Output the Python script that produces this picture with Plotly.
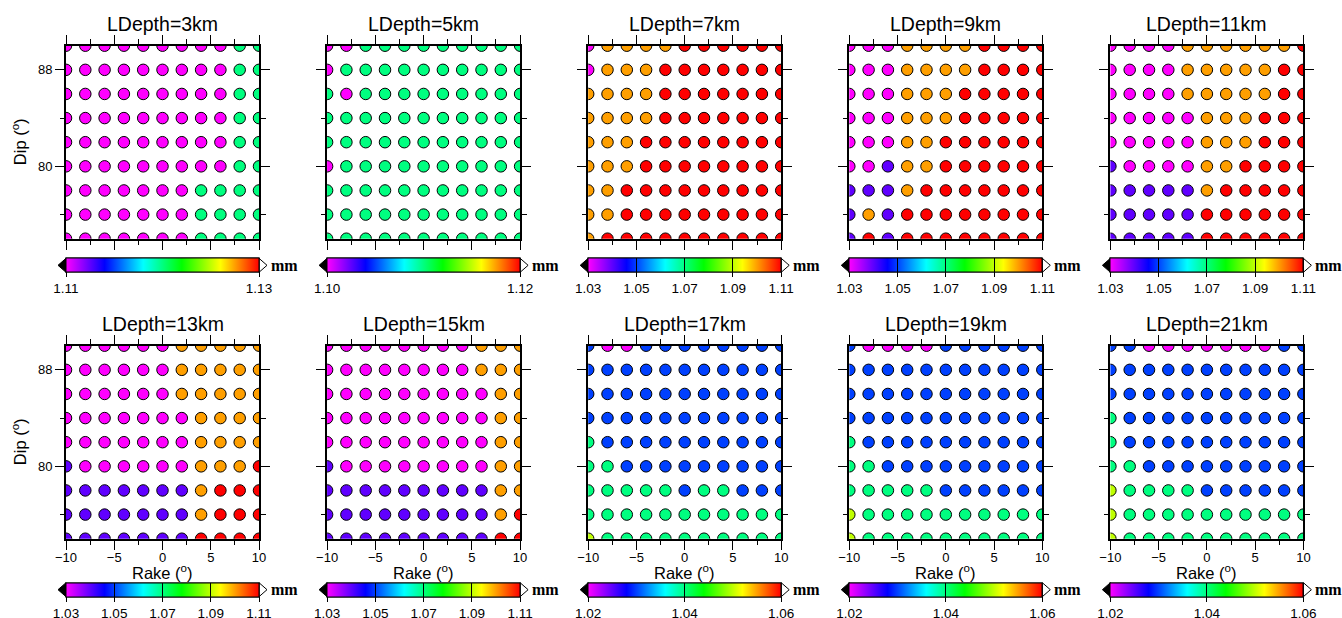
import numpy as np
import plotly.graph_objects as go

# ---------------- data ----------------
rake = [-10, -8, -6, -4, -2, 0, 2, 4, 6, 8, 10]
dip = [90, 88, 86, 84, 82, 80, 78, 76, 74]
depths = [3, 5, 7, 9, 11, 13, 15, 17, 19, 21]

d3 = [
    [1.11, 1.11, 1.11, 1.11, 1.11, 1.11, 1.11, 1.11, 1.11, 1.12, 1.12],
    [1.11, 1.11, 1.11, 1.11, 1.11, 1.11, 1.11, 1.11, 1.11, 1.12, 1.12],
    [1.11, 1.11, 1.11, 1.11, 1.11, 1.11, 1.11, 1.11, 1.11, 1.12, 1.12],
    [1.11, 1.11, 1.11, 1.11, 1.11, 1.11, 1.11, 1.11, 1.11, 1.12, 1.12],
    [1.11, 1.11, 1.11, 1.11, 1.11, 1.11, 1.11, 1.11, 1.11, 1.12, 1.12],
    [1.11, 1.11, 1.11, 1.11, 1.11, 1.11, 1.11, 1.11, 1.11, 1.12, 1.12],
    [1.11, 1.11, 1.11, 1.11, 1.11, 1.11, 1.11, 1.12, 1.12, 1.12, 1.12],
    [1.11, 1.11, 1.11, 1.11, 1.11, 1.11, 1.11, 1.12, 1.12, 1.12, 1.12],
    [1.11, 1.11, 1.11, 1.11, 1.11, 1.11, 1.11, 1.12, 1.12, 1.12, 1.12],
]
d5 = [
    [1.10, 1.10, 1.11, 1.11, 1.11, 1.11, 1.11, 1.11, 1.11, 1.11, 1.11],
    [1.10, 1.11, 1.11, 1.11, 1.11, 1.11, 1.11, 1.11, 1.11, 1.11, 1.11],
    [1.11, 1.10, 1.11, 1.11, 1.11, 1.11, 1.11, 1.11, 1.11, 1.11, 1.11],
    [1.11, 1.11, 1.11, 1.11, 1.11, 1.11, 1.11, 1.11, 1.11, 1.11, 1.11],
    [1.11, 1.11, 1.11, 1.11, 1.11, 1.11, 1.11, 1.11, 1.11, 1.11, 1.11],
    [1.10, 1.11, 1.11, 1.11, 1.11, 1.11, 1.11, 1.11, 1.11, 1.11, 1.11],
    [1.11, 1.11, 1.11, 1.11, 1.11, 1.11, 1.11, 1.11, 1.11, 1.11, 1.11],
    [1.11, 1.11, 1.11, 1.11, 1.11, 1.11, 1.11, 1.11, 1.11, 1.11, 1.11],
    [1.11, 1.11, 1.11, 1.11, 1.11, 1.11, 1.11, 1.11, 1.11, 1.11, 1.11],
]
d7 = [
    [1.03, 1.10, 1.10, 1.10, 1.10, 1.11, 1.11, 1.11, 1.11, 1.11, 1.11],
    [1.03, 1.10, 1.10, 1.10, 1.11, 1.11, 1.11, 1.11, 1.11, 1.11, 1.11],
    [1.10, 1.10, 1.10, 1.10, 1.11, 1.11, 1.11, 1.11, 1.11, 1.11, 1.11],
    [1.10, 1.10, 1.10, 1.10, 1.11, 1.11, 1.11, 1.11, 1.11, 1.11, 1.11],
    [1.10, 1.10, 1.10, 1.11, 1.11, 1.11, 1.11, 1.11, 1.11, 1.11, 1.11],
    [1.10, 1.10, 1.10, 1.11, 1.11, 1.11, 1.11, 1.11, 1.11, 1.11, 1.11],
    [1.10, 1.10, 1.11, 1.11, 1.11, 1.11, 1.11, 1.11, 1.11, 1.11, 1.11],
    [1.10, 1.10, 1.11, 1.11, 1.11, 1.11, 1.11, 1.11, 1.11, 1.11, 1.11],
    [1.10, 1.11, 1.11, 1.11, 1.11, 1.11, 1.11, 1.11, 1.11, 1.11, 1.11],
]
d9 = [
    [1.03, 1.03, 1.03, 1.10, 1.10, 1.10, 1.10, 1.11, 1.11, 1.11, 1.11],
    [1.03, 1.03, 1.03, 1.10, 1.10, 1.10, 1.10, 1.11, 1.11, 1.11, 1.11],
    [1.03, 1.03, 1.03, 1.10, 1.10, 1.10, 1.11, 1.11, 1.11, 1.11, 1.11],
    [1.03, 1.03, 1.03, 1.10, 1.10, 1.10, 1.11, 1.11, 1.11, 1.11, 1.11],
    [1.03, 1.03, 1.03, 1.10, 1.10, 1.11, 1.11, 1.11, 1.11, 1.11, 1.11],
    [1.03, 1.03, 1.04, 1.10, 1.10, 1.11, 1.11, 1.11, 1.11, 1.11, 1.11],
    [1.04, 1.04, 1.04, 1.10, 1.11, 1.11, 1.11, 1.11, 1.11, 1.11, 1.11],
    [1.04, 1.10, 1.04, 1.11, 1.11, 1.11, 1.11, 1.11, 1.11, 1.11, 1.11],
    [1.04, 1.11, 1.04, 1.11, 1.11, 1.11, 1.11, 1.11, 1.11, 1.11, 1.11],
]
d11 = [
    [1.03, 1.03, 1.03, 1.03, 1.10, 1.10, 1.10, 1.10, 1.10, 1.10, 1.11],
    [1.03, 1.03, 1.03, 1.03, 1.10, 1.10, 1.10, 1.10, 1.10, 1.11, 1.11],
    [1.03, 1.03, 1.03, 1.03, 1.10, 1.10, 1.10, 1.10, 1.10, 1.11, 1.11],
    [1.03, 1.03, 1.03, 1.03, 1.03, 1.10, 1.10, 1.10, 1.11, 1.11, 1.11],
    [1.03, 1.03, 1.03, 1.03, 1.03, 1.10, 1.10, 1.10, 1.11, 1.11, 1.11],
    [1.04, 1.03, 1.03, 1.03, 1.03, 1.10, 1.10, 1.11, 1.11, 1.11, 1.11],
    [1.04, 1.04, 1.04, 1.04, 1.04, 1.10, 1.11, 1.11, 1.11, 1.11, 1.11],
    [1.04, 1.04, 1.04, 1.04, 1.04, 1.11, 1.11, 1.11, 1.11, 1.11, 1.11],
    [1.04, 1.04, 1.04, 1.04, 1.04, 1.11, 1.11, 1.11, 1.11, 1.11, 1.11],
]
d13 = [
    [1.03, 1.03, 1.03, 1.03, 1.03, 1.03, 1.10, 1.10, 1.10, 1.10, 1.10],
    [1.03, 1.03, 1.03, 1.03, 1.03, 1.03, 1.10, 1.10, 1.10, 1.10, 1.10],
    [1.03, 1.03, 1.03, 1.03, 1.03, 1.03, 1.10, 1.10, 1.10, 1.10, 1.10],
    [1.03, 1.03, 1.03, 1.03, 1.03, 1.03, 1.03, 1.10, 1.10, 1.10, 1.10],
    [1.03, 1.03, 1.03, 1.03, 1.03, 1.03, 1.03, 1.10, 1.10, 1.10, 1.10],
    [1.04, 1.03, 1.03, 1.03, 1.03, 1.03, 1.03, 1.10, 1.10, 1.10, 1.11],
    [1.04, 1.04, 1.04, 1.04, 1.04, 1.04, 1.04, 1.10, 1.11, 1.11, 1.11],
    [1.04, 1.04, 1.04, 1.04, 1.04, 1.04, 1.04, 1.10, 1.11, 1.11, 1.11],
    [1.04, 1.04, 1.04, 1.04, 1.04, 1.04, 1.04, 1.11, 1.11, 1.11, 1.11],
]
d15 = [
    [1.03, 1.03, 1.03, 1.03, 1.03, 1.03, 1.03, 1.03, 1.10, 1.10, 1.10],
    [1.03, 1.03, 1.03, 1.03, 1.03, 1.03, 1.03, 1.03, 1.10, 1.10, 1.10],
    [1.03, 1.03, 1.03, 1.03, 1.03, 1.03, 1.03, 1.03, 1.03, 1.10, 1.10],
    [1.03, 1.03, 1.03, 1.03, 1.03, 1.03, 1.03, 1.03, 1.03, 1.10, 1.10],
    [1.03, 1.03, 1.03, 1.03, 1.03, 1.03, 1.03, 1.03, 1.03, 1.10, 1.10],
    [1.04, 1.03, 1.03, 1.03, 1.03, 1.03, 1.03, 1.03, 1.03, 1.10, 1.10],
    [1.04, 1.04, 1.04, 1.04, 1.04, 1.04, 1.04, 1.04, 1.04, 1.10, 1.10],
    [1.04, 1.04, 1.04, 1.04, 1.04, 1.04, 1.04, 1.04, 1.04, 1.10, 1.11],
    [1.04, 1.04, 1.04, 1.04, 1.04, 1.04, 1.04, 1.04, 1.04, 1.11, 1.11],
]
d17 = [
    [1.03, 1.02, 1.02, 1.03, 1.03, 1.03, 1.03, 1.03, 1.03, 1.03, 1.03],
    [1.03, 1.03, 1.03, 1.03, 1.03, 1.03, 1.03, 1.03, 1.03, 1.03, 1.03],
    [1.03, 1.03, 1.03, 1.03, 1.03, 1.03, 1.03, 1.03, 1.03, 1.03, 1.03],
    [1.03, 1.03, 1.03, 1.03, 1.03, 1.03, 1.03, 1.03, 1.03, 1.03, 1.03],
    [1.04, 1.03, 1.03, 1.03, 1.03, 1.03, 1.03, 1.03, 1.03, 1.03, 1.03],
    [1.04, 1.04, 1.03, 1.03, 1.03, 1.03, 1.03, 1.03, 1.03, 1.03, 1.03],
    [1.04, 1.04, 1.04, 1.04, 1.04, 1.03, 1.04, 1.04, 1.03, 1.03, 1.03],
    [1.04, 1.04, 1.04, 1.04, 1.04, 1.04, 1.04, 1.04, 1.04, 1.04, 1.04],
    [1.05, 1.04, 1.04, 1.04, 1.04, 1.04, 1.04, 1.04, 1.04, 1.04, 1.04],
]
d19 = [
    [1.03, 1.02, 1.02, 1.02, 1.02, 1.03, 1.03, 1.03, 1.03, 1.03, 1.03],
    [1.03, 1.03, 1.03, 1.03, 1.03, 1.03, 1.03, 1.03, 1.03, 1.03, 1.03],
    [1.03, 1.03, 1.03, 1.03, 1.03, 1.03, 1.03, 1.03, 1.03, 1.03, 1.03],
    [1.03, 1.03, 1.03, 1.03, 1.03, 1.03, 1.03, 1.03, 1.03, 1.03, 1.03],
    [1.04, 1.03, 1.03, 1.03, 1.03, 1.03, 1.03, 1.03, 1.03, 1.03, 1.03],
    [1.04, 1.04, 1.03, 1.03, 1.03, 1.03, 1.03, 1.03, 1.03, 1.03, 1.03],
    [1.04, 1.04, 1.04, 1.04, 1.04, 1.03, 1.03, 1.03, 1.03, 1.03, 1.03],
    [1.05, 1.04, 1.04, 1.04, 1.04, 1.04, 1.04, 1.04, 1.04, 1.04, 1.04],
    [1.05, 1.04, 1.04, 1.04, 1.04, 1.04, 1.04, 1.04, 1.04, 1.04, 1.04],
]
d21 = [
    [1.03, 1.03, 1.02, 1.02, 1.02, 1.02, 1.02, 1.02, 1.02, 1.03, 1.03],
    [1.03, 1.03, 1.03, 1.03, 1.03, 1.03, 1.03, 1.03, 1.03, 1.03, 1.03],
    [1.03, 1.03, 1.03, 1.03, 1.03, 1.03, 1.03, 1.03, 1.03, 1.03, 1.03],
    [1.04, 1.03, 1.03, 1.03, 1.03, 1.03, 1.03, 1.03, 1.03, 1.03, 1.03],
    [1.04, 1.03, 1.03, 1.03, 1.03, 1.03, 1.03, 1.03, 1.03, 1.03, 1.03],
    [1.04, 1.04, 1.03, 1.03, 1.03, 1.03, 1.03, 1.03, 1.03, 1.03, 1.03],
    [1.05, 1.04, 1.04, 1.04, 1.04, 1.03, 1.03, 1.03, 1.03, 1.03, 1.03],
    [1.05, 1.04, 1.04, 1.04, 1.04, 1.04, 1.04, 1.04, 1.04, 1.04, 1.04],
    [1.05, 1.04, 1.04, 1.04, 1.04, 1.04, 1.04, 1.04, 1.04, 1.04, 1.04],
]
panels = [d3, d5, d7, d9, d11, d13, d15, d17, d19, d21]

cb_min = [1.11, 1.10, 1.03, 1.03, 1.03, 1.03, 1.03, 1.02, 1.02, 1.02]
cb_max = [1.13, 1.12, 1.11, 1.11, 1.11, 1.11, 1.11, 1.06, 1.06, 1.06]
ticks_a = [1.03, 1.05, 1.07, 1.09, 1.11]
ticks_b = [1.02, 1.04, 1.06]
cb_ticks = [[1.11, 1.13], [1.10, 1.12], ticks_a, ticks_a, ticks_a,
            ticks_a, ticks_a, ticks_b, ticks_b, ticks_b]

# ---------------- styling / layout ----------------
W, H = 1342, 618
FONT = "Liberation Sans"
rainbow = [[0.0, "rgb(255,0,255)"], [0.2, "rgb(0,0,255)"], [0.4, "rgb(0,255,255)"],
           [0.6, "rgb(0,255,0)"], [0.8, "rgb(255,255,0)"], [1.0, "rgb(255,0,0)"]]

col_left = [66, 327.1, 588.2, 849.3, 1110.4]
PW = 193.0
row_top = [45.7, 345.7]
PH = 193.0
cb_top = [258.3, 582.7]
cb_th = 14
title_y = [24, 324]

def px(x):
    return x / W

def py(y):
    return 1 - y / H

fig = go.Figure()
shapes = []
annotations = []
layout = dict(
    width=W, height=H,
    margin=dict(l=0, r=0, t=0, b=0, autoexpand=False),
    paper_bgcolor="white", plot_bgcolor="white",
    font=dict(family=FONT, color="black"),
    showlegend=False,
    template="none",
)

RX, RY = np.meshgrid(rake, dip)

for k in range(10):
    r, c = divmod(k, 5)
    idx = k + 1
    sfx = "" if idx == 1 else str(idx)
    L = col_left[c]
    T = row_top[r]
    vals = np.array(panels[k]).ravel()
    fig.add_trace(go.Scatter(
        x=RX.ravel(), y=RY.ravel(), mode="markers",
        xaxis="x" + sfx, yaxis="y" + sfx,
        marker=dict(size=11.5, color=vals, coloraxis="coloraxis" + sfx,
                    line=dict(color="black", width=1)),
        hoverinfo="x+y+text", text=[f"{v:.2f}" for v in vals],
        cliponaxis=True,
    ))
    # dummy trace feeding the overlay colorbar with inner grid lines
    fig.add_trace(go.Scatter(
        x=[None], y=[None], mode="markers",
        xaxis="x" + sfx, yaxis="y" + sfx,
        marker=dict(color=[cb_min[k]], coloraxis="coloraxis" + str(idx + 10)),
        hoverinfo="skip",
    ))

    layout["xaxis" + sfx] = dict(
        domain=[px(L), px(L + PW)], anchor="y" + sfx, range=[-10, 10],
        tick0=-10, dtick=5, ticks="outside", ticklen=9, tickwidth=1.3, tickcolor="black",
        showline=True, linewidth=2, linecolor="black", mirror="ticks",
        showgrid=False, zeroline=False, showticklabels=(r == 1),
        ticklabelstandoff=-3,
        tickfont=dict(size=13, family=FONT, color="black"),
        minor=dict(dtick=2.5, tick0=-10, ticks="outside", ticklen=4.5, tickwidth=1.3,
                   tickcolor="black", showgrid=False),
        automargin=False, fixedrange=True,
    )
    layout["yaxis" + sfx] = dict(
        domain=[py(T + PH), py(T)], anchor="x" + sfx, range=[74, 90],
        tick0=72, dtick=8, ticks="outside", ticklen=9, tickwidth=1.3, tickcolor="black",
        showline=True, linewidth=2, linecolor="black", mirror="ticks",
        showgrid=False, zeroline=False, showticklabels=(c == 0),
        tickfont=dict(size=13, family=FONT, color="black"),
        minor=dict(dtick=4, tick0=72, ticks="outside", ticklen=4.5, tickwidth=1.3,
                   tickcolor="black", showgrid=False),
        automargin=False, fixedrange=True,
    )

    tv = cb_ticks[k]
    base_cb = dict(
        orientation="h", x=px(L + PW / 2), xanchor="center",
        y=py(cb_top[r]), yanchor="top", yref="paper", xref="paper",
        len=PW, lenmode="pixels", thickness=cb_th, thicknessmode="pixels",
        xpad=0, ypad=0, outlinewidth=1, outlinecolor="black", borderwidth=0,
        tickvals=tv, ticktext=[f"{v:.2f}" for v in tv],
        tickcolor="black", tickwidth=1,
    )
    cb_main = dict(base_cb, ticks="outside", ticklen=5,
                   tickfont=dict(size=13.5, family=FONT, color="black"))
    cb_grid = dict(base_cb, ticks="inside", ticklen=cb_th, showticklabels=False)
    layout["coloraxis" + sfx] = dict(colorscale=rainbow, cmin=cb_min[k], cmax=cb_max[k],
                                    colorbar=cb_main, showscale=True)
    layout["coloraxis" + str(idx + 10)] = dict(colorscale=rainbow, cmin=cb_min[k],
                                              cmax=cb_max[k], colorbar=cb_grid,
                                              showscale=True)

    # end triangles of the colour bar
    yt = cb_top[r]
    yc = yt + cb_th / 2
    yb = yt + cb_th
    shapes.append(dict(
        type="path", xref="paper", yref="paper",
        path=f"M {px(L - 8)},{py(yc)} L {px(L)},{py(yt)} L {px(L)},{py(yb)} Z",
        fillcolor="black", line=dict(color="black", width=1), layer="above"))
    shapes.append(dict(
        type="path", xref="paper", yref="paper",
        path=f"M {px(L + PW)},{py(yt)} L {px(L + PW + 8)},{py(yc)} L {px(L + PW)},{py(yb)} Z",
        fillcolor="white", line=dict(color="black", width=1), layer="above"))
    annotations.append(dict(
        text="<b>mm</b>", x=px(L + PW + 10), y=py(yc), xref="paper", yref="paper",
        xanchor="left", yanchor="middle", showarrow=False,
        font=dict(family="Liberation Serif", size=16, color="black")))

    # panel title
    annotations.append(dict(
        text=f"LDepth={depths[k]}km", x=px(L + PW / 2), y=py(title_y[r]),
        xref="paper", yref="paper", xanchor="center", yanchor="middle",
        showarrow=False, font=dict(family=FONT, size=19.5, color="black")))

    if c == 0:
        annotations.append(dict(
            text="Dip (<sup>o</sup>)", x=px(19), y=py(T + PH / 2), xref="paper", yref="paper",
            xanchor="center", yanchor="middle", textangle=-90, showarrow=False,
            font=dict(family=FONT, size=16.5, color="black")))
    if r == 1:
        annotations.append(dict(
            text="Rake (<sup>o</sup>)", x=px(L + PW / 2), y=py(572), xref="paper", yref="paper",
            xanchor="center", yanchor="middle", showarrow=False,
            font=dict(family=FONT, size=16.5, color="black")))

layout["shapes"] = shapes
layout["annotations"] = annotations
fig.update_layout(**layout)

fig.write_html("out.html",
               config={"displayModeBar": False},
               post_script="document.body.style.margin='0px';"
                           "document.body.style.padding='0px';"
                           "document.body.style.overflow='hidden';")
